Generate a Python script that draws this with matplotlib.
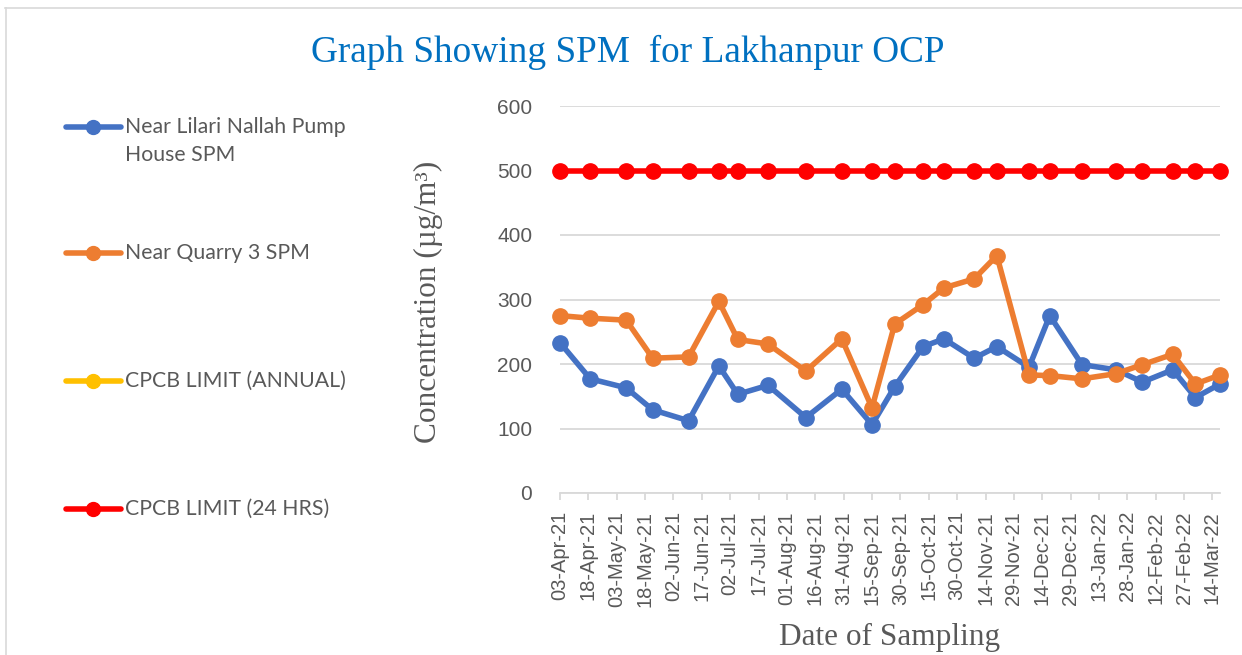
import matplotlib
matplotlib.use("Agg")
import matplotlib.pyplot as plt
import matplotlib.dates as mdates
from matplotlib.lines import Line2D
import pandas as pd

# ---- data ----
dates = ["2021-04-03", "2021-04-19", "2021-05-08", "2021-05-22", "2021-06-10", "2021-06-26",
         "2021-07-06", "2021-07-22", "2021-08-11", "2021-08-30", "2021-09-15", "2021-09-27",
         "2021-10-12", "2021-10-23", "2021-11-08", "2021-11-20", "2021-12-07", "2021-12-18",
         "2022-01-04", "2022-01-22", "2022-02-05", "2022-02-21", "2022-03-05", "2022-03-18"]
lilari_spm = [233, 177, 163, 129, 112, 197, 153, 167, 117, 161, 106, 165,
              227, 239, 209, 227, 195, 275, 199, 191, 172, 191, 148, 169]
quarry3_spm = [275, 271, 268, 209, 211, 297, 238, 231, 189, 239, 132, 262,
               292, 318, 332, 368, 183, 182, 177, 185, 199, 215, 169, 183]
cpcb_annual = []
cpcb_24hrs = [500] * 24
series_labels = ["Near Lilari Nallah Pump\nHouse SPM", "Near Quarry 3 SPM",
                 "CPCB LIMIT (ANNUAL)", "CPCB LIMIT (24 HRS)"]
series_colors = ["#4472C4", "#ED7D31", "#FFC000", "#FF0000"]
y_ticks = [0, 100, 200, 300, 400, 500, 600]
title = "Graph Showing SPM  for Lakhanpur OCP"
y_label = "Concentration (\u00b5g/m\u00b3)"
x_label = "Date of Sampling"

# ---- figure ----
W, H = 1242, 655
fig = plt.figure(figsize=(W / 100, H / 100), dpi=100)
fig.patch.set_facecolor("white")

def fx(px):
    return px / W

def fy(py):
    return 1 - py / H

ax = fig.add_axes([fx(560), fy(493), fx(1220) - fx(560), fy(106) - fy(493)])

d = pd.to_datetime(dates)
lw = 4.0
ms = 11
ax.plot(d, lilari_spm, color=series_colors[0], lw=lw, marker="o", ms=ms, zorder=3, clip_on=False)
ax.plot(d, quarry3_spm, color=series_colors[1], lw=lw, marker="o", ms=ms, zorder=3, clip_on=False)
if cpcb_annual:
    ax.plot(d[:len(cpcb_annual)], cpcb_annual, color=series_colors[2], lw=lw, marker="o", ms=ms,
            zorder=3, clip_on=False)
ax.plot(d, cpcb_24hrs, color=series_colors[3], lw=lw, marker="o", ms=ms, zorder=3, clip_on=False)

ax.set_xlim(d[0], d[-1])
ax.set_ylim(0, 600)
ax.set_yticks(y_ticks)
ax.yaxis.grid(True, color="#D9D9D9", lw=1.3, zorder=0)
ax.set_axisbelow(True)

tick_dates = pd.date_range("2021-04-03", periods=24, freq="15D")
ax.set_xticks(tick_dates)
ax.xaxis.set_major_formatter(mdates.DateFormatter("%d-%b-%y"))
ax.tick_params(axis="x", rotation=90, labelsize=14.5, colors="#595959",
               length=5, width=1.3, color="#D9D9D9", pad=8)
ax.tick_params(axis="y", labelsize=15, colors="#595959", length=0, pad=20)

for s in ["top", "right", "left"]:
    ax.spines[s].set_visible(False)
ax.spines["bottom"].set_color("#D9D9D9")
ax.spines["bottom"].set_linewidth(1.3)

for lab in ax.get_xticklabels() + ax.get_yticklabels():
    lab.set_fontfamily("Liberation Sans")

# titles / axis labels
fig.text(fx(628), fy(52), title, ha="center", va="center", fontsize=26.8,
         family="Liberation Serif", color="#0070C0")
fig.text(fx(428), fy(302), y_label, ha="center", va="center", rotation=90,
         fontsize=22.5, family="Liberation Serif", color="#595959")
fig.text(fx(890), fy(637), x_label, ha="center", va="center", fontsize=22.5,
         family="Liberation Serif", color="#595959")

# legend (manual, left side)
leg_y = [127, 253, 381, 509]
for lab, col, yy in zip(series_labels, series_colors, leg_y):
    fig.add_artist(Line2D([fx(66), fx(121)], [fy(yy), fy(yy)], transform=fig.transFigure,
                          color=col, lw=4, solid_capstyle="round"))
    fig.add_artist(Line2D([fx(93)], [fy(yy)], transform=fig.transFigure,
                          color=col, marker="o", ms=10, lw=0))
    for i, line in enumerate(lab.split("\n")):
        fig.text(fx(125), fy(yy + i * 28), line, ha="left", va="center",
                 fontsize=15.3, family="Lato", color="#595959")

# outer frame
fig.add_artist(Line2D([fx(5.5), fx(5.5)], [fy(8), 0], transform=fig.transFigure,
                      color="#D9D9D9", lw=1.2))
fig.add_artist(Line2D([fx(5), 1], [fy(8), fy(8)], transform=fig.transFigure,
                      color="#D9D9D9", lw=1.2))

fig.savefig("out.png", dpi=100)
